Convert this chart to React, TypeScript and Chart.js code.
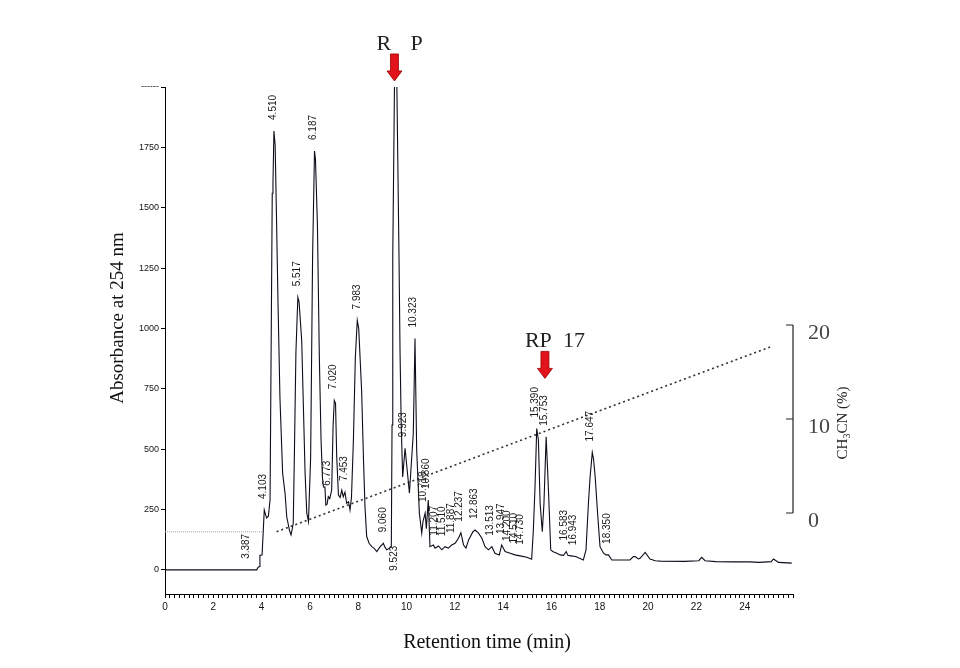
import React, { useEffect, useRef } from 'react';
import { Chart, registerables } from 'chart.js';

Chart.register(...registerables);

// Retention time (min) and absorbance at 254 nm
const times = [
  0, 3.8, 3.85, 3.91, 3.93, 4.02, 4.07, 4.11, 4.16, 4.21, 4.28, 4.35, 4.4, 4.44, 4.47, 4.51, 4.56, 4.6, 4.68, 4.76,
  4.87, 4.97, 5.04, 5.15, 5.22, 5.26, 5.31, 5.36, 5.42, 5.5, 5.55, 5.66, 5.8, 5.87, 5.94, 6.03, 6.11, 6.19, 6.23, 6.31,
  6.39, 6.46, 6.52, 6.56, 6.62, 6.66, 6.71, 6.76, 6.82, 6.9, 6.96, 7.01, 7.06, 7.11, 7.18, 7.25, 7.32, 7.38, 7.45, 7.52,
  7.6, 7.66, 7.72, 7.8, 7.88, 7.96, 8.02, 8.14, 8.22, 8.28, 8.35, 8.45, 8.56, 8.65, 8.77, 8.9, 9.04, 9.1, 9.18, 9.3,
  9.37, 9.4, 9.43, 9.5, 9.55, 9.6, 9.69, 9.73, 9.78, 9.84, 9.94, 10.02, 10.12, 10.28, 10.35, 10.42, 10.53, 10.63, 10.68, 10.77,
  10.82, 10.9, 10.97, 11.11, 11.18, 11.32, 11.46, 11.59, 11.73, 11.87, 12.01, 12.15, 12.25, 12.36, 12.46, 12.57, 12.75, 12.84, 12.98, 13.12,
  13.25, 13.39, 13.53, 13.66, 13.84, 13.94, 14.08, 14.29, 14.49, 14.7, 14.98, 15.18, 15.25, 15.32, 15.39, 15.46, 15.53, 15.62, 15.69, 15.78,
  15.87, 15.97, 16.05, 16.2, 16.36, 16.5, 16.61, 16.68, 16.8, 17.0, 17.32, 17.43, 17.53, 17.6, 17.69, 17.74, 17.81, 17.9, 18.01, 18.15,
  18.25, 18.36, 18.5, 19.25, 19.39, 19.46, 19.6, 19.67, 19.88, 20.08, 20.3, 20.5, 21.5, 22.1, 22.22, 22.36, 22.8, 23.5, 24.2, 24.6,
  25.1, 25.19, 25.3, 25.4, 25.95,
];
const absorbance = [
  0, 0, 10, 14, 60, 62, 165, 248, 230, 215, 222, 290, 1000, 1560, 1600, 1818, 1760, 1550, 1100, 710,
  400, 318, 220, 165, 145, 165, 194, 500, 900, 1129, 1110, 950, 400, 235, 200, 468, 1295, 1735, 1700, 1433,
  881, 540, 380, 343, 343, 268, 272, 303, 295, 330, 600, 702, 690, 468, 310, 300, 330, 303, 322, 276,
  282, 248, 300, 537, 880, 1033, 1000, 744, 450, 262, 138, 110, 96, 90, 76, 95, 110, 95, 83, 90,
  95, 600, 1300, 2000, 2300, 2000, 1281, 909, 600, 385, 504, 420, 318, 566, 958, 496, 235, 152, 200, 235,
  170, 289, 96, 103, 90, 99, 83, 96, 90, 103, 110, 131, 154, 103, 90, 124, 158, 165, 152, 131,
  96, 83, 96, 69, 62, 103, 76, 69, 62, 58, 52, 44, 165, 344, 585, 537, 276, 158, 276, 551,
  344, 83, 76, 70, 62, 60, 76, 60, 58, 55, 41, 83, 276, 385, 486, 460, 385, 248, 96, 70,
  62, 62, 41, 41, 55, 55, 45, 48, 72, 45, 38, 36, 35, 38, 52, 38, 34, 33, 33, 31,
  34, 45, 38, 31, 28,
];

// Peak retention-time labels
const peakTimes = [
  3.387, 4.103, 4.51, 5.517, 6.187, 6.773, 7.02, 7.453, 7.983, 9.06, 9.523, 9.923, 10.323, 10.718, 10.86, 11.207,
  11.51, 11.887, 12.237, 12.863, 13.513, 13.947, 14.2, 14.51, 14.73, 15.39, 15.753, 16.583, 16.943, 17.647, 18.35,
];
const peakLabels = [
  '3.387', '4.103', '4.510', '5.517', '6.187', '6.773', '7.020', '7.453', '7.983', '9.060', '9.523', '9.923', '10.323',
  '10.718', '10.860', '11.207', '11.510', '11.887', '12.237', '12.863', '13.513', '13.947', '14.200', '14.510', '14.730',
  '15.390', '15.753', '16.583', '16.943', '17.647', '18.350',
];
const labelsBelowTrace = ['9.523'];

// CH3CN gradient (%)
const gradientTimes = [4.62, 25.05];
const gradientPercent = [-2.0, 17.66];
const baselineTimes = [0, 4.06];
const baselinePercent = [-2.0, -2.0];

// Axes
const absTicks = [0, 250, 500, 750, 1000, 1250, 1500, 1750, 2000];
const percentTicks = [0, 10, 20];

// Arrows marking compounds
const arrowTimes = [9.5, 15.73];
const arrowTipValues = [2025, 793];
const arrowTextLeft = ['R', 'RP'];
const arrowTextRight = ['P', '17'];

const SERIF = '"Liberation Serif", "Times New Roman", serif';
const SANS = '"Liberation Sans", Arial, sans-serif';

function interp(t: number): number {
  if (t <= times[0]) return absorbance[0];
  for (let i = 1; i < times.length; i++) {
    if (t <= times[i]) {
      const f = (t - times[i - 1]) / (times[i] - times[i - 1]);
      return absorbance[i - 1] + f * (absorbance[i] - absorbance[i - 1]);
    }
  }
  return absorbance[absorbance.length - 1];
}

function extremeNear(t: number, w: number, useMax: boolean): number {
  let best = interp(t);
  const cand = [interp(t - w), interp(t + w)];
  times.forEach((tt, i) => {
    if (tt >= t - w && tt <= t + w) cand.push(absorbance[i]);
  });
  cand.forEach((v) => {
    best = useMax ? Math.max(best, v) : Math.min(best, v);
  });
  return best;
}

const annotationPlugin = {
  id: 'chromAnnotations',
  afterDatasetsDraw(chart: any) {
    const { ctx, scales } = chart;
    const x = scales.x;
    const y = scales.y;
    ctx.save();
    ctx.font = `10px ${SANS}`;
    ctx.fillStyle = '#1a1a1a';
    ctx.textBaseline = 'middle';
    ctx.textAlign = 'left';
    peakLabels.forEach((lab, i) => {
      const t = peakTimes[i];
      const below = labelsBelowTrace.includes(lab);
      const v = below ? extremeNear(t, 0.15, false) : extremeNear(t, 0.06, true);
      const px = x.getPixelForValue(t) - 1;
      const py = y.getPixelForValue(Math.min(v, 2000));
      const w = ctx.measureText(lab).width;
      ctx.save();
      ctx.translate(px, below ? py + 11 + w : py - 11);
      ctx.rotate(-Math.PI / 2);
      ctx.fillText(lab, 0, 0);
      ctx.restore();
    });
    ctx.restore();
  },
  afterDraw(chart: any) {
    const { ctx, chartArea, scales } = chart;
    const x = scales.x;
    const y = scales.y;
    const y2 = scales.y2;
    ctx.save();

    // right CH3CN axis line + inward ticks
    const r = chartArea.right;
    ctx.strokeStyle = '#222';
    ctx.lineWidth = 1.2;
    ctx.beginPath();
    ctx.moveTo(r, y2.getPixelForValue(percentTicks[0]));
    ctx.lineTo(r, y2.getPixelForValue(percentTicks[percentTicks.length - 1]));
    percentTicks.forEach((p) => {
      const py = y2.getPixelForValue(p);
      ctx.moveTo(r - 7, py);
      ctx.lineTo(r, py);
    });
    ctx.stroke();

    // right axis title CH3CN (%)
    ctx.save();
    ctx.translate(r + 50, 423);
    ctx.rotate(-Math.PI / 2);
    ctx.fillStyle = '#222';
    ctx.textBaseline = 'middle';
    ctx.textAlign = 'left';
    const big = `15px ${SERIF}`;
    const small = `10px ${SERIF}`;
    ctx.font = big;
    const w1 = ctx.measureText('CH').width;
    const w3 = ctx.measureText('CN (%)').width;
    ctx.font = small;
    const w2 = ctx.measureText('3').width;
    let cx = -(w1 + w2 + w3) / 2;
    ctx.font = big;
    ctx.fillText('CH', cx, 0);
    cx += w1;
    ctx.font = small;
    ctx.fillText('3', cx, 4);
    cx += w2;
    ctx.font = big;
    ctx.fillText('CN (%)', cx, 0);
    ctx.restore();

    // left axis title
    ctx.save();
    ctx.translate(chartArea.left - 47, 318);
    ctx.rotate(-Math.PI / 2);
    ctx.font = `19px ${SERIF}`;
    ctx.fillStyle = '#111';
    ctx.textAlign = 'center';
    ctx.textBaseline = 'middle';
    ctx.fillText('Absorbance at 254 nm', 0, 0);
    ctx.restore();

    // bottom axis title
    ctx.font = `20px ${SERIF}`;
    ctx.fillStyle = '#111';
    ctx.textAlign = 'center';
    ctx.textBaseline = 'middle';
    ctx.fillText('Retention time (min)', 487, chartArea.bottom + 49);

    // arrows with compound names
    arrowTimes.forEach((t, i) => {
      const ax = x.getPixelForValue(t);
      const tip = y.getPixelForValue(arrowTipValues[i]);
      const headTop = tip - 10;
      const shaftTop = tip - 27;
      ctx.beginPath();
      ctx.moveTo(ax - 4, shaftTop);
      ctx.lineTo(ax + 4, shaftTop);
      ctx.lineTo(ax + 4, headTop);
      ctx.lineTo(ax + 7.5, headTop);
      ctx.lineTo(ax, tip);
      ctx.lineTo(ax - 7.5, headTop);
      ctx.lineTo(ax - 4, headTop);
      ctx.closePath();
      ctx.fillStyle = '#e3131b';
      ctx.fill();
      ctx.strokeStyle = '#9b0000';
      ctx.lineWidth = 0.8;
      ctx.stroke();

      ctx.font = `22px ${SERIF}`;
      ctx.fillStyle = '#222';
      ctx.textBaseline = 'alphabetic';
      ctx.textAlign = 'left';
      ctx.fillText(arrowTextLeft[i], ax - (i === 0 ? 18 : 20), shaftTop - 4);
      ctx.fillText(arrowTextRight[i], ax + (i === 0 ? 16 : 18), shaftTop - 4);
    });

    ctx.restore();
  },
};

export default function App() {
  const canvasRef = useRef<HTMLCanvasElement | null>(null);

  useEffect(() => {
    const canvas = canvasRef.current;
    if (!canvas) return;
    const trace = times.map((t, i) => ({ x: t, y: absorbance[i] }));
    const gradient = gradientTimes.map((t, i) => ({ x: t, y: gradientPercent[i] }));
    const baseline = baselineTimes.map((t, i) => ({ x: t, y: baselinePercent[i] }));

    const chart = new Chart(canvas, {
      type: 'line',
      data: {
        datasets: [
          {
            label: 'Absorbance',
            data: trace,
            yAxisID: 'y',
            borderColor: '#0d0d1a',
            borderWidth: 1.1,
            pointRadius: 0,
            tension: 0,
          },
          {
            label: 'CH3CN',
            data: gradient,
            yAxisID: 'y2',
            borderColor: '#333',
            borderWidth: 1.6,
            borderDash: [2, 3],
            pointRadius: 0,
          },
          {
            label: 'start',
            data: baseline,
            yAxisID: 'y2',
            borderColor: '#aaaaaa',
            borderWidth: 1,
            borderDash: [1, 1],
            pointRadius: 0,
          },
        ],
      },
      options: {
        animation: false,
        responsive: false,
        maintainAspectRatio: false,
        layout: { padding: { top: 87, left: 0, right: 0, bottom: 0 } },
        plugins: {
          legend: { display: false },
          tooltip: { enabled: false },
        },
        scales: {
          x: {
            type: 'linear',
            min: 0,
            max: 26,
            afterFit: (s: any) => {
              s.height = 74;
            },
            border: { display: true, color: '#000', width: 1 },
            grid: { display: true, drawOnChartArea: false, drawTicks: true, tickLength: 4, color: '#000' },
            ticks: {
              stepSize: 0.2,
              autoSkip: false,
              maxRotation: 0,
              padding: 3,
              color: '#111',
              font: { family: SANS, size: 10 },
              callback: (value: any) => {
                const v = Number(value);
                return Math.abs(v - Math.round(v / 2) * 2) < 1e-6 && v < 25 ? String(Math.round(v)) : '';
              },
            },
          },
          y: {
            type: 'linear',
            position: 'left',
            min: -100,
            max: 2000,
            afterFit: (s: any) => {
              s.width = 165;
            },
            afterBuildTicks: (s: any) => {
              s.ticks = absTicks.map((v) => ({ value: v }));
            },
            border: { display: true, color: '#000', width: 1 },
            grid: { display: true, drawOnChartArea: false, drawTicks: true, tickLength: 4, color: '#000' },
            ticks: {
              padding: 2,
              color: '#111',
              font: { family: SANS, size: 9 },
              callback: (value: any) => (Number(value) === 2000 ? '------' : String(value)),
            },
          },
          y2: {
            type: 'linear',
            position: 'right',
            min: -8.62,
            max: 45.32,
            afterFit: (s: any) => {
              s.width = 167;
            },
            afterBuildTicks: (s: any) => {
              s.ticks = percentTicks.map((v) => ({ value: v }));
            },
            border: { display: false },
            grid: { display: false, drawTicks: false },
            ticks: {
              padding: 15,
              labelOffset: 8,
              color: '#444',
              font: { family: SERIF, size: 22 },
            },
          },
        },
      },
      plugins: [annotationPlugin],
    } as any);

    return () => chart.destroy();
  }, []);

  return (
    <div style={{ position: 'absolute', left: 0, top: 0, width: 960, height: 668, background: '#fff' }}>
      <canvas ref={canvasRef} width={960} height={668} style={{ width: 960, height: 668, display: 'block' }} />
    </div>
  );
}
